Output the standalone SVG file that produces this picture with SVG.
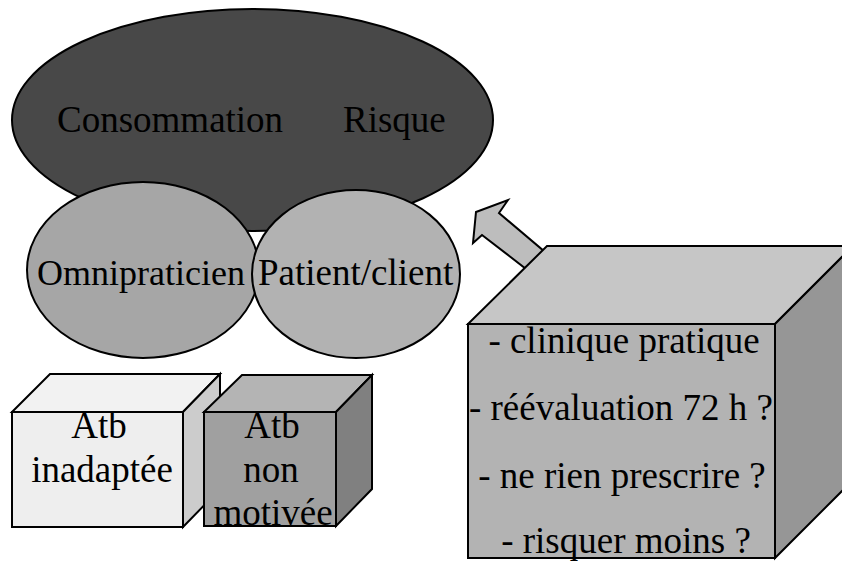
<svg xmlns="http://www.w3.org/2000/svg" width="842" height="562" viewBox="0 0 842 562">
<style>
.s{stroke:#000;stroke-width:2}
.m{text-anchor:middle}
</style>
<rect width="842" height="562" fill="#fff"/>
<g id="consommation-risque" font-family="Liberation Serif, serif" font-size="37">
<ellipse class="s" cx="252.5" cy="120" rx="240.5" ry="111" fill="#484848"/>
<text x="57" y="132">Consommation</text>
<text x="343" y="132">Risque</text>
</g>
<g id="omnipraticien">
<ellipse class="s" cx="143" cy="270" rx="116" ry="88" fill="#a6a6a6"/>
</g>
<g id="patient">
<ellipse class="s" cx="356" cy="274" rx="104" ry="84" fill="#b2b2b2"/>
</g>
<g font-family="Liberation Serif, serif" font-size="36">
<text x="37" y="285">Omnipraticien</text>
<text x="258" y="285" font-size="37">Patient/client</text>
</g>
<g id="connectors">
<polygon class="s" points="476,212 508,200 499,213 545,252 530,272 482,235 473,243" fill="#bdbdbd"/>
</g>
<g id="atb-inadaptee" font-family="Liberation Serif, serif" font-size="37">
<polygon class="s" points="12,412 50,374 220,374 183,412" fill="#f2f2f2"/>
<polygon class="s" points="183,412 220,374 220,489 183,527" fill="#cccccc"/>
<rect class="s" x="12" y="412" width="171" height="115" fill="#eeeeee"/>
<text class="m" x="99" y="438">Atb</text>
<text class="m" x="102" y="482">inadaptée</text>
</g>
<g id="atb-non-motivee" font-family="Liberation Serif, serif" font-size="37">
<polygon class="s" points="204,412 242,375 372,375 336,412" fill="#b4b4b4"/>
<polygon class="s" points="336,412 372,375 372,489 336,526" fill="#808080"/>
<rect class="s" x="204" y="412" width="132" height="114" fill="#a0a0a0"/>
<text class="m" x="272" y="438">Atb</text>
<text class="m" x="271" y="482">non</text>
<text class="m" x="273" y="525">motivée</text>
</g>
<g id="actions" font-family="Liberation Serif, serif" font-size="37">
<polygon class="s" points="468,324 547,246 853,246 775,324" fill="#c6c6c6"/>
<polygon class="s" points="775,324 853,246 853,480 775,558" fill="#969696"/>
<rect class="s" x="468" y="324" width="307" height="234" fill="#b3b3b3"/>
<text class="m" x="624" y="353">- clinique pratique</text>
<text class="m" x="621" y="420">- réévaluation 72 h ?</text>
<text class="m" x="622" y="488">- ne rien prescrire ?</text>
<text class="m" x="626" y="553">- risquer moins ?</text>
</g>
</svg>
